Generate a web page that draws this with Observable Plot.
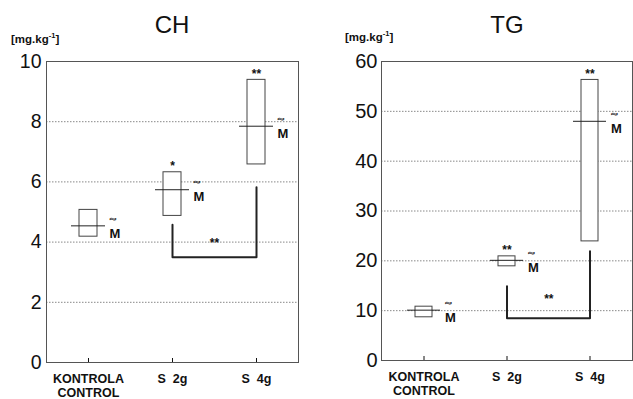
<!DOCTYPE html>
<html><head><meta charset="utf-8">
<script src="https://cdn.jsdelivr.net/npm/d3@7"></script>
<script src="https://cdn.jsdelivr.net/npm/@observablehq/plot@0.6"></script>
<style>
body{margin:0;background:#fff;font-family:"Liberation Sans",Arial,sans-serif;color:#111}
#wrap{position:relative;width:633px;height:399px;overflow:hidden}
.panel{position:absolute;top:0}
.title{position:absolute;font-size:24px;line-height:1;transform:translateX(-50%);white-space:nowrap}
.unit{position:absolute;font-size:11.5px;font-weight:bold;line-height:1;white-space:nowrap}
.unit sup{font-size:7.5px;vertical-align:5px;line-height:0}
</style></head><body>
<div id="wrap"></div>
<script>
// categories
const groups = ["KONTROLA\nCONTROL", "S\u00a0\u00a02g", "S\u00a0\u00a04g"];

// CH panel (mg.kg-1)
const chLow    = [4.18, 4.87, 6.58];
const chHigh   = [5.07, 6.32, 9.39];
const chMedian = [4.54, 5.74, 7.85];
const chStars  = ["", "*", "**"];
const chTicks  = [0, 2, 4, 6, 8, 10];
const chBracket = {leftTop: 4.58, base: 3.5, rightTop: 5.82, starY: 3.95, star: "**"};

// TG panel (mg.kg-1)
const tgLow    = [8.67, 18.9, 23.9];
const tgHigh   = [10.8, 20.9, 56.3];
const tgMedian = [10.1, 20.1, 48.0];
const tgStars  = ["", "**", "**"];
const tgTicks  = [0, 10, 20, 30, 40, 50, 60];
const tgBracket = {leftTop: 14.9, base: 8.5, rightTop: 21.9, starY: 12.3, star: "**"};

const FONT = "'Liberation Sans', Arial, sans-serif";

function panel({low, high, median, stars, ticks, bracket, width, marginLeft, marginRight, marginBottom, fontSize, tickPadding}) {
  const rows = groups.map((g, i) => ({g, low: low[i], high: high[i], median: median[i], star: stars[i]}));
  const half = (width - marginLeft - marginRight) / groups.length / 2;
  const pts = [
    {g: groups[1], y: bracket.leftTop},
    {g: groups[1], y: bracket.base},
    {g: groups[2], y: bracket.base},
    {g: groups[2], y: bracket.rightTop}
  ];
  return Plot.plot({
    width, height: 399, marginLeft, marginRight, marginTop: 61, marginBottom,
    style: {fontFamily: FONT, background: "transparent", color: "#111"},
    x: {type: "band", domain: groups, padding: 0, label: null},
    y: {domain: [0, ticks[ticks.length - 1]], label: null},
    marks: [
      Plot.gridY(ticks, {stroke: "#888", strokeOpacity: 1, strokeDasharray: "1.5,1.5"}),
      Plot.frame({stroke: "#555"}),
      Plot.axisY(ticks, {tickSize: 0, tickPadding, fontSize, label: null}),
      Plot.axisX({tickSize: -4, tickPadding: 14, fontSize: 12.5, fontWeight: "bold", lineHeight: 1.15, label: null}),
      Plot.rect(rows, {x: "g", y1: "low", y2: "high", insetLeft: 33, insetRight: 33, fill: "white", stroke: "#444"}),
      Plot.tickY(rows, {x: "g", y: "median", insetLeft: 25, insetRight: 25, stroke: "#222"}),
      Plot.text(rows, {x: "g", y: "median", text: () => "M", textAnchor: "start", dx: 21, dy: 7.5, fontWeight: "bold", fontSize: 13}),
      Plot.text(rows, {x: "g", y: "median", text: () => "~", textAnchor: "start", dx: 21, dy: -7, fontWeight: "bold", fontSize: 11.5, stroke: "#111", strokeWidth: 0.6}),
      Plot.text(rows, {x: "g", y: "high", text: "star", dy: -6, fontWeight: "bold", fontSize: 12}),
      Plot.line(pts, {x: "g", y: "y", stroke: "#222", strokeWidth: 2}),
      Plot.text([bracket], {x: () => groups[1], y: "starY", text: "star", dx: half, fontWeight: "bold", fontSize: 12})
    ]
  });
}

const wrap = document.getElementById("wrap");

const left = panel({low: chLow, high: chHigh, median: chMedian, stars: chStars, ticks: chTicks, bracket: chBracket,
  width: 320, marginLeft: 46, marginRight: 22, marginBottom: 37, fontSize: 19.5, tickPadding: 5});
left.classList.add("panel"); left.style.left = "0px";
wrap.appendChild(left);

const right = panel({low: tgLow, high: tgHigh, median: tgMedian, stars: tgStars, ticks: tgTicks, bracket: tgBracket,
  width: 313, marginLeft: 61, marginRight: 1, marginBottom: 39, fontSize: 20, tickPadding: 4});
right.classList.add("panel"); right.style.left = "320px";
wrap.appendChild(right);

function addText(cls, html, x, y) {
  const d = document.createElement("div");
  d.className = cls; d.innerHTML = html;
  d.style.left = x + "px"; d.style.top = y + "px";
  wrap.appendChild(d);
}
addText("title", "CH", 172, 13);
addText("title", "TG", 507, 13);
addText("unit", "[mg.kg<sup>-1</sup>]", 11, 34);
addText("unit", "[mg.kg<sup>-1</sup>]", 345, 32);
</script>
</body></html>
